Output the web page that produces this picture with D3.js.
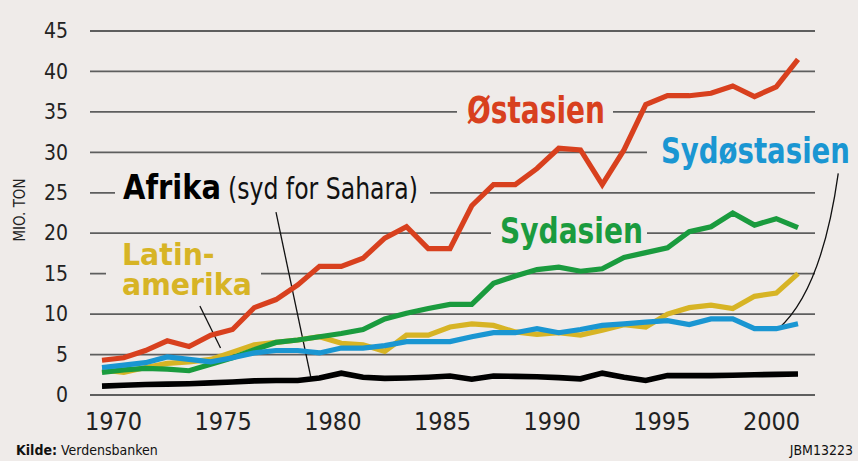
<!DOCTYPE html>
<html><head><meta charset="utf-8">
<script src="https://cdn.jsdelivr.net/npm/d3@7"></script>
<style>
html,body{margin:0;padding:0;background:#efebe9;}
svg{display:block;}
text{font-family:"Liberation Sans Narrow","DejaVu Sans Condensed",sans-serif;}
</style></head>
<body>
<svg id="c" width="858" height="461"></svg>
<script>
const years = [1969,1970,1971,1972,1973,1974,1975,1976,1977,1978,1979,1980,1981,1982,1983,1984,1985,1986,1987,1988,1989,1990,1991,1992,1993,1994,1995,1996,1997,1998,1999,2000,2001];
const ostasien = [4.3,4.6,5.5,6.7,6.0,7.4,8.1,10.8,11.8,13.6,15.9,15.9,16.9,19.4,20.8,18.1,18.1,23.4,26.0,26.0,28.0,30.5,30.3,26.0,30.3,35.9,37.0,37.0,37.3,38.2,36.9,38.1,41.5];
const sydasien = [2.8,3.1,3.3,3.2,3.0,3.8,4.6,5.6,6.5,6.8,7.2,7.6,8.1,9.4,10.1,10.7,11.2,11.2,13.8,14.7,15.5,15.8,15.3,15.6,17.0,17.6,18.2,20.2,20.8,22.5,21.0,21.8,20.7];
const latinamerika = [3.1,2.8,3.4,3.9,4.1,4.4,5.3,6.2,6.5,6.8,7.2,6.4,6.2,5.4,7.4,7.4,8.4,8.8,8.6,7.8,7.5,7.7,7.4,8.0,8.7,8.4,10.0,10.8,11.1,10.7,12.2,12.6,15.0];
const sydostasien = [3.4,3.7,4.0,4.7,4.4,4.1,4.6,5.2,5.5,5.5,5.2,5.8,5.8,6.1,6.6,6.6,6.6,7.2,7.7,7.7,8.2,7.7,8.1,8.6,8.8,9.0,9.2,8.7,9.4,9.4,8.2,8.2,8.8];
const afrika = [1.1,1.2,1.3,1.35,1.4,1.5,1.6,1.75,1.8,1.8,2.1,2.7,2.2,2.05,2.1,2.2,2.35,1.95,2.35,2.3,2.25,2.15,2.0,2.7,2.2,1.8,2.4,2.4,2.4,2.45,2.5,2.55,2.6];
const yTicks = [0,5,10,15,20,25,30,35,40,45];
const xTicks = [1970,1975,1980,1985,1990,1995,2000];

const BG = "#efebe9";
const svg = d3.select("#c");
svg.append("rect").attr("width",858).attr("height",461).attr("fill",BG);

const x = d3.scaleLinear().domain([1969,2001]).range([102,798]);
const xa = d3.scaleLinear().domain([1970,2000]).range([113,771]);
const y = d3.scaleLinear().domain([0,45]).range([395,31]);

// gridlines
svg.append("g").selectAll("line").data(yTicks).join("line")
  .attr("x1",90).attr("x2",815)
  .attr("y1",d=>y(d)).attr("y2",d=>y(d))
  .attr("stroke","#5e5e5e").attr("stroke-width",1.8);

// y axis labels
const ya = svg.append("g").attr("transform","translate(68,0)")
  .call(d3.axisLeft(y).tickValues(yTicks).tickSize(0).tickPadding(0));
ya.select(".domain").remove();
ya.selectAll("text").attr("font-size",21).attr("fill","#222")
  .style("font-family",'"Liberation Sans Narrow","DejaVu Sans Condensed",sans-serif');

// x axis labels
const xg = svg.append("g").attr("transform","translate(0,412)")
  .call(d3.axisBottom(xa).tickValues(xTicks).tickFormat(d3.format("d")).tickSize(0).tickPadding(0));
xg.select(".domain").remove();
xg.selectAll("text").attr("font-size",25).attr("fill","#222")
  .style("font-family",'"Liberation Sans Narrow","DejaVu Sans Condensed",sans-serif');

svg.append("text").attr("transform","translate(25,210) rotate(-90)")
  .attr("text-anchor","middle").attr("font-size",15).attr("fill","#222").text("MIO. TON");

// labels (lines: one or more rows of one text element)
const lab = [
  {rows:[{t:"Østasien", b:123}], x:467, s:38, l:138, c:"#d8401e", w:"bold", pl:10, pr:8, h:30},
  {rows:[{t:"Sydøstasien", b:163}], x:661, s:35, l:189, c:"#1a96d2", w:"bold", pl:14, pr:6, h:28},
  {rows:[{t:"Sydasien", b:243}], x:500, s:35, l:143, c:"#1a9b3e", w:"bold", pl:9, pr:4, h:27},
  {rows:[{t:"Afrika", b:199}], x:123, s:33, l:98, c:"#000", w:"bold", pl:8, pr:0, h:26},
  {rows:[{t:"(syd for Sahara)", b:199}], x:228, s:31, l:190, c:"#111", w:"normal", pl:8, pr:12, h:26},
  {rows:[{t:"Latin-", b:265},{t:"amerika", b:295}], x:122, s:31, l:130, c:"#d7b425", w:"bold", pl:16, pr:9, h:24}
];
const masks = svg.append("g");
lab.forEach(d=>{
  d.rows.forEach(r=>{
    masks.append("rect").attr("x",d.x-d.pl).attr("y",r.b-d.h)
      .attr("width",d.l+d.pl+d.pr).attr("height",d.h+8).attr("fill",BG);
  });
});

// pointer lines
const ptr = svg.append("g").attr("fill","none").attr("stroke","#111").attr("stroke-width",1.3);
ptr.append("line").attr("x1",x(1973.5)).attr("y1",y(11.0)).attr("x2",x(1974.45)).attr("y2",y(5.8));
ptr.append("line").attr("x1",x(1977.0)).attr("y1",y(22.6)).attr("x2",x(1978.6)).attr("y2",y(2.2));
ptr.append("path").attr("d",`M${x(2002.85)},${y(27.4)} Q${x(2002.1)},${y(13)} ${x(2000.1)},${y(8.2)}`);

// series
const line = d3.line().x((d,i)=>x(years[i])).y(d=>y(d));
const series = [
  {v:latinamerika, c:"#d7b425", w:5.2},
  {v:sydasien, c:"#1a9b3e", w:5.2},
  {v:sydostasien, c:"#1a96d2", w:5.2},
  {v:afrika, c:"#000", w:5.6},
  {v:ostasien, c:"#d8401e", w:5.2}
];
svg.append("g").selectAll("path").data(series).join("path")
  .attr("d",d=>line(d.v)).attr("fill","none").attr("stroke",d=>d.c)
  .attr("stroke-width",d=>d.w).attr("stroke-linejoin","miter").attr("stroke-miterlimit",3);

// label texts, horizontally condensed to match the reference widths
lab.forEach(d=>{
  const t = svg.append("text").attr("font-size",d.s)
    .attr("font-weight",d.w).attr("fill",d.c);
  let maxW = 0;
  d.rows.forEach(r=>{
    const ts = t.append("tspan").attr("x",0).attr("y",r.b).text(r.t);
    maxW = Math.max(maxW, ts.node().getComputedTextLength() || 0);
  });
  const k = maxW ? d.l/maxW : 1;
  t.attr("transform",`translate(${d.x},0) scale(${k},1)`);
});

// footer
const f = svg.append("text").attr("x",16).attr("y",455).attr("font-size",14).attr("fill","#111");
f.append("tspan").attr("font-weight","bold").text("Kilde:");
f.append("tspan").text(" Verdensbanken");
svg.append("text").attr("x",853).attr("y",455).attr("font-size",14).attr("text-anchor","end").attr("fill","#111").text("JBM13223");
</script>
</body></html>
